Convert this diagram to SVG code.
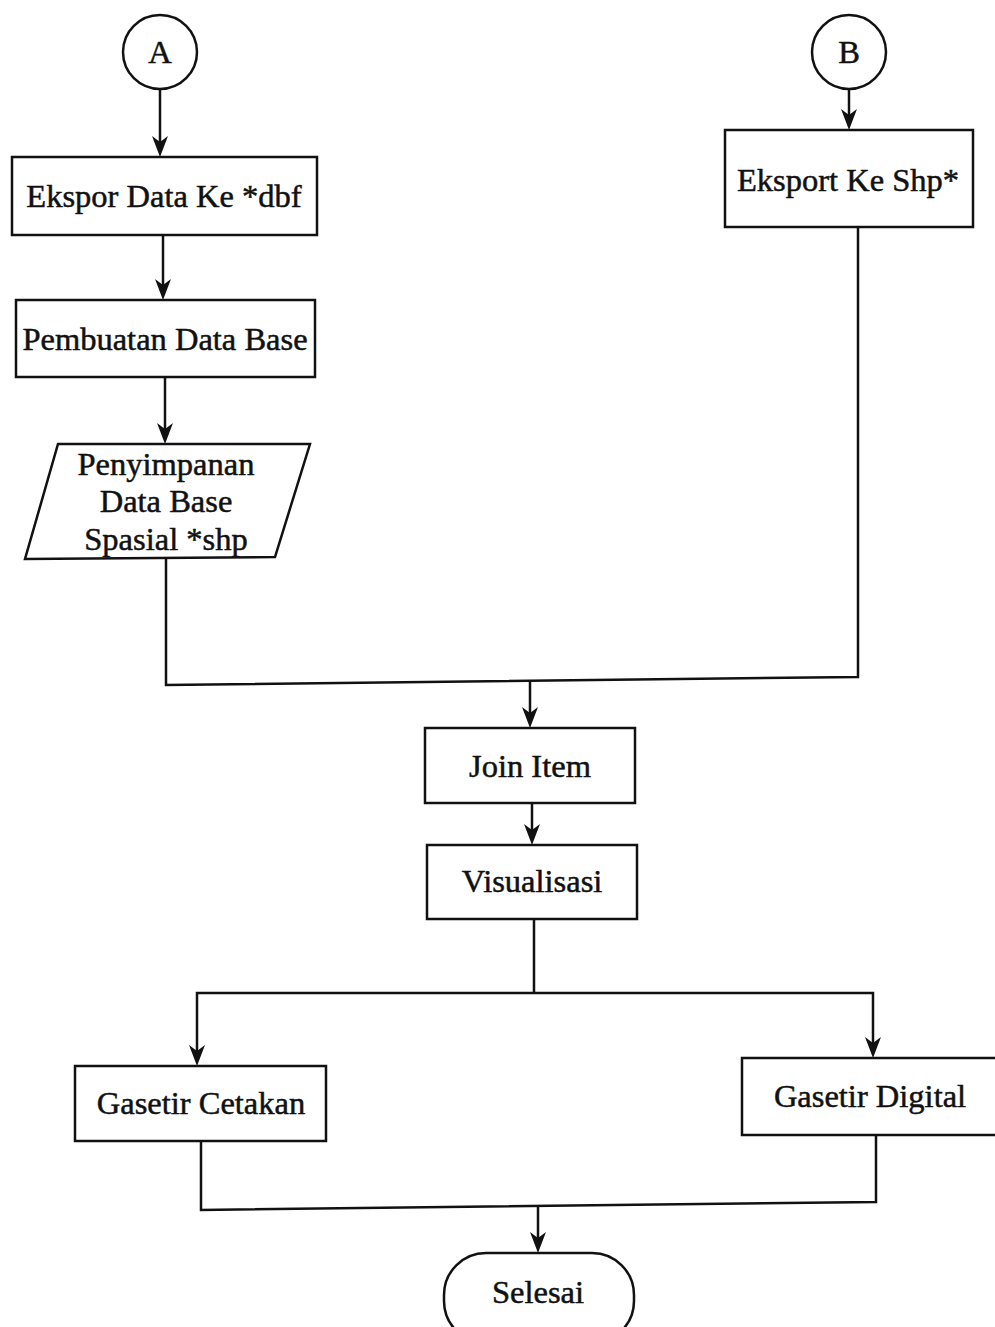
<svg xmlns="http://www.w3.org/2000/svg" width="995" height="1327" viewBox="0 0 995 1327">
<style>
.n{fill:#fff;stroke:#111;stroke-width:2.5}
.t{font-family:"Liberation Serif","Times New Roman",serif;font-size:32.5px;fill:#111;stroke:#111;stroke-width:0.5;text-anchor:middle}
.c{fill:none;stroke:#111;stroke-width:2.5}
</style>
<rect width="995" height="1327" fill="#fff"/>
<g id="connectors">
<path class="c" d="M160,90 V150"/>
<path class="c" d="M163,235 V293"/>
<path class="c" d="M165,377 V437"/>
<path class="c" d="M166,558 V685 L858,677 V228"/>
<path class="c" d="M530,682 V721"/>
<path class="c" d="M849,90 V123"/>
<path class="c" d="M532,803 V838"/>
<path class="c" d="M534,919 V992"/>
<path class="c" d="M197,1060 V993 H873 V1051"/>
<path class="c" d="M201,1141 V1210 L876,1202 V1135"/>
<path class="c" d="M538,1206 V1246"/>
</g>
<g id="arrowheads" fill="#111">
<path d="M152,136 L160,142 L168,136 L160,157 Z"/>
<path d="M155,279 L163,285 L171,279 L163,300 Z"/>
<path d="M157,423 L165,429 L173,423 L165,444 Z"/>
<path d="M522,707 L530,713 L538,707 L530,728 Z"/>
<path d="M841,109 L849,115 L857,109 L849,130 Z"/>
<path d="M524,824 L532,830 L540,824 L532,845 Z"/>
<path d="M189,1045 L197,1051 L205,1045 L197,1066 Z"/>
<path d="M865,1037 L873,1043 L881,1037 L873,1058 Z"/>
<path d="M530,1232 L538,1238 L546,1232 L538,1253 Z"/>
</g>
<g id="nodeA"><circle class="n" cx="160" cy="52" r="37"/><text class="t" x="160" y="63">A</text></g>
<g id="nodeB"><circle class="n" cx="849" cy="52" r="37"/><text class="t" x="849" y="63">B</text></g>
<g id="ekspor"><rect class="n" x="12" y="157" width="305" height="78"/><text class="t" x="164" y="207">Ekspor Data Ke *dbf</text></g>
<g id="pembuatan"><rect class="n" x="16" y="300" width="299" height="77"/><text class="t" x="165" y="350">Pembuatan Data Base</text></g>
<g id="penyimpanan"><path class="n" d="M58,444 L310,444 L275,557 L25,559 Z"/>
<text class="t" x="166" y="475">Penyimpanan</text><text class="t" x="166" y="512">Data Base</text><text class="t" x="166" y="550">Spasial *shp</text></g>
<g id="eksport"><rect class="n" x="725" y="130" width="248" height="97"/><text class="t" x="848" y="191">Eksport Ke Shp*</text></g>
<g id="join"><rect class="n" x="425" y="728" width="210" height="75"/><text class="t" x="530" y="777">Join Item</text></g>
<g id="visualisasi"><rect class="n" x="427" y="845" width="210" height="74"/><text class="t" x="532" y="892">Visualisasi</text></g>
<g id="cetakan"><rect class="n" x="75" y="1066" width="251" height="75"/><text class="t" x="201" y="1114">Gasetir Cetakan</text></g>
<g id="digital"><rect class="n" x="742" y="1058" width="260" height="77"/><text class="t" x="870" y="1107">Gasetir Digital</text></g>
<g id="selesai"><rect class="n" x="444" y="1253" width="190" height="90" rx="42"/><text class="t" x="538" y="1303">Selesai</text></g>
</svg>
